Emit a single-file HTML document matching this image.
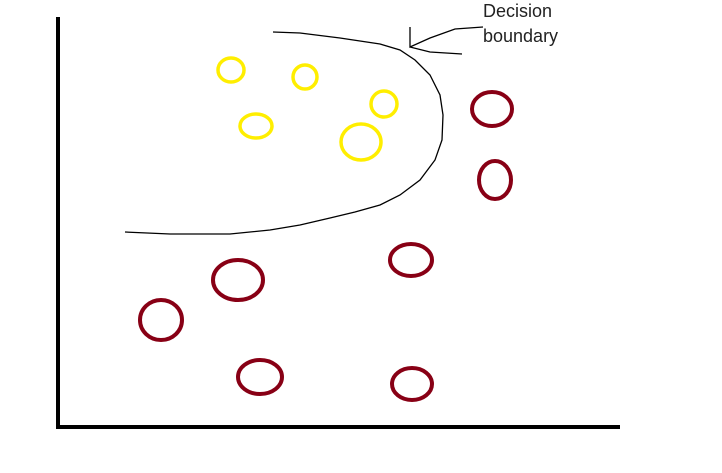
<!DOCTYPE html>
<html><head><meta charset="utf-8"><style>
html,body{margin:0;padding:0;background:#fff;width:722px;height:473px;overflow:hidden}
</style></head><body>
<svg width="722" height="473" xmlns="http://www.w3.org/2000/svg">
<line x1="58" y1="17" x2="58" y2="429" stroke="#000" stroke-width="4"/>
<line x1="56" y1="427" x2="620" y2="427" stroke="#000" stroke-width="4"/>
<path d="M273,32 L300,33 L340,38 L380,44 L400,50 L415,60 L430,75 L440,95 L443,115 L442,140 L435,160 L420,180 L400,195 L380,205 L355,212 L330,218 L300,225 L270,230 L230,234 L170,234 L125,232" fill="none" stroke="#000" stroke-width="1.3"/>
<path d="M410,27 L410,47 L430,38 L455,29 L483,27 M410,47 L430,52 L462,54" fill="none" stroke="#000" stroke-width="1.3"/>
<text x="483" y="17" font-family="Liberation Sans, sans-serif" font-size="18" fill="#222">Decision</text>
<text x="483" y="42" font-family="Liberation Sans, sans-serif" font-size="18" fill="#222">boundary</text>
<g fill="none" stroke="#ffee00" stroke-width="3.5">
<ellipse cx="231" cy="70" rx="13" ry="12"/>
<ellipse cx="305" cy="77" rx="12" ry="12"/>
<ellipse cx="384" cy="104" rx="13" ry="13"/>
<ellipse cx="256" cy="126" rx="16" ry="12"/>
<ellipse cx="361" cy="142" rx="20" ry="18"/>
</g>
<g fill="none" stroke="#880015" stroke-width="4">
<ellipse cx="492" cy="109" rx="20" ry="17"/>
<ellipse cx="495" cy="180" rx="16" ry="19"/>
<ellipse cx="238" cy="280" rx="25" ry="20"/>
<ellipse cx="411" cy="260" rx="21" ry="16"/>
<ellipse cx="161" cy="320" rx="21" ry="20"/>
<ellipse cx="260" cy="377" rx="22" ry="17"/>
<ellipse cx="412" cy="384" rx="20" ry="16"/>
</g>
</svg>
</body></html>
